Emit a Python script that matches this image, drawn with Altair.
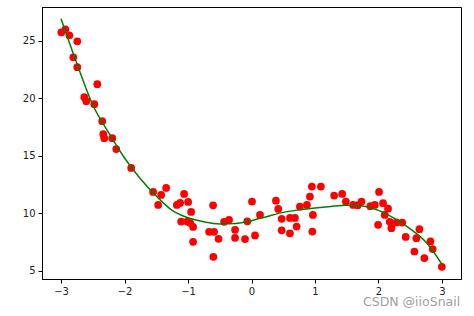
import altair as alt
import pandas as pd

# scatter data
pts_x = [-2.995, -2.932, -2.869, -2.744, -2.807, -2.744, -2.429, -2.634, -2.602, -2.476,
         -2.351, -2.335, -2.319, -2.193, -2.13, -1.895, -1.55, -1.47, -1.344, -1.423,
         -1.176, -1.124, -1.061, -0.998, -0.951, -1.108, -1.014, -0.967, -0.92, -0.92,
         -0.605, -0.668, -0.59, -0.519, -0.601, -0.432, -0.354, -0.259, -0.259, -0.102,
         -0.066, 0.008, 0.055, 0.134, 0.385, 0.421, 0.475, 0.475, 0.605, 0.605,
         0.711, 0.684, 0.763, 0.873, 0.92, 0.951, 1.093, 0.967, 0.959, 1.302,
         1.428, 1.486, 1.601, 1.675, 1.733, 1.871, 1.942, 2.009, 2.072, 2.151,
         2.099, 1.994, 2.178, 2.204, 2.283, 2.374, 2.429, 2.645, 2.597, 2.819,
         2.854, 2.566, 2.723, 2.998]
pts_y = [25.72, 25.98, 25.46, 24.94, 23.55, 22.69, 21.21, 20.08, 19.73, 19.47,
         18.0, 16.87, 16.52, 16.52, 15.57, 13.93, 11.85, 10.72, 12.19, 11.59,
         10.72, 10.89, 11.67, 10.98, 10.11, 9.27, 9.27, 9.16, 8.81, 7.51,
         10.68, 8.38, 8.38, 7.77, 6.21, 9.25, 9.42, 8.55, 7.86, 7.75,
         9.29, 11.01, 8.07, 9.85, 11.09, 10.37, 9.51, 8.51, 8.25, 9.59,
         8.84, 9.59, 10.57, 10.72, 11.44, 12.31, 12.31, 9.85, 8.40, 11.53,
         11.67, 11.01, 10.72, 10.69, 11.01, 10.61, 10.72, 11.85, 10.87, 10.39,
         9.85, 8.99, 9.25, 8.70, 9.20, 9.18, 7.94, 8.61, 7.83, 7.54,
         6.88, 6.67, 6.10, 5.34]

# fitted curve
line_x = [-3.0, -2.75, -2.5, -2.25, -2.0, -1.75, -1.5, -1.25, -1.0, -0.75, -0.5, -0.25,
          0.0, 0.25, 0.5, 0.75, 1.0, 1.25, 1.5, 1.75, 2.0, 2.25, 2.5, 2.75, 3.0]
line_y = [26.9, 23.0, 19.4, 17.0, 14.8, 13.0, 11.5, 10.24, 9.6, 9.25, 9.07, 9.1,
          9.35, 9.72, 10.07, 10.29, 10.46, 10.59, 10.68, 10.63, 10.24, 9.55, 8.64, 7.47, 5.56]

x_ticks = [-3, -2, -1, 0, 1, 2, 3]
y_ticks = [5, 10, 15, 20, 25]
watermark = "CSDN @iioSnail"

pts = pd.DataFrame({"x": pts_x, "y": pts_y})
ln = pd.DataFrame({"x": line_x, "y": line_y})

xs = alt.Scale(domain=[-3.3, 3.3], nice=False, zero=False)
ys = alt.Scale(domain=[4.28, 27.92], nice=False, zero=False)

axis_common = dict(domainColor="black", tickColor="black", labelColor="#222",
                   labelFont="DejaVu Sans", labelFontSize=10, tickSize=4,
                   grid=False, title=None, labelPadding=3)

xenc = alt.X("x:Q", scale=xs, axis=alt.Axis(values=x_ticks, format="d", **axis_common))
yenc = alt.Y("y:Q", scale=ys, axis=alt.Axis(values=y_ticks, format="d", **axis_common))

scatter = alt.Chart(pts).mark_circle(color="#ff0000", opacity=1, size=60).encode(x=xenc, y=yenc)
curve = alt.Chart(ln).mark_line(color="#008000", strokeWidth=1.5, interpolate="monotone").encode(
    x=alt.X("x:Q", scale=xs), y=alt.Y("y:Q", scale=ys))
wm = alt.Chart(pd.DataFrame({"t": [watermark]})).mark_text(
    align="left", baseline="middle", fontSize=12.5, color="#a0a0a0", font="DejaVu Sans"
).encode(text="t:N", x=alt.value(321), y=alt.value(294.5))

chart = alt.layer(scatter, curve, wm).properties(
    width=419, height=272,
    padding={"left": 42, "top": 7, "right": 13, "bottom": 37},
    autosize=alt.AutoSizeParams(type="none"),
).configure_view(stroke="black", strokeWidth=1)

chart.save("out.html", embed_options={"renderer": "svg", "actions": False})
